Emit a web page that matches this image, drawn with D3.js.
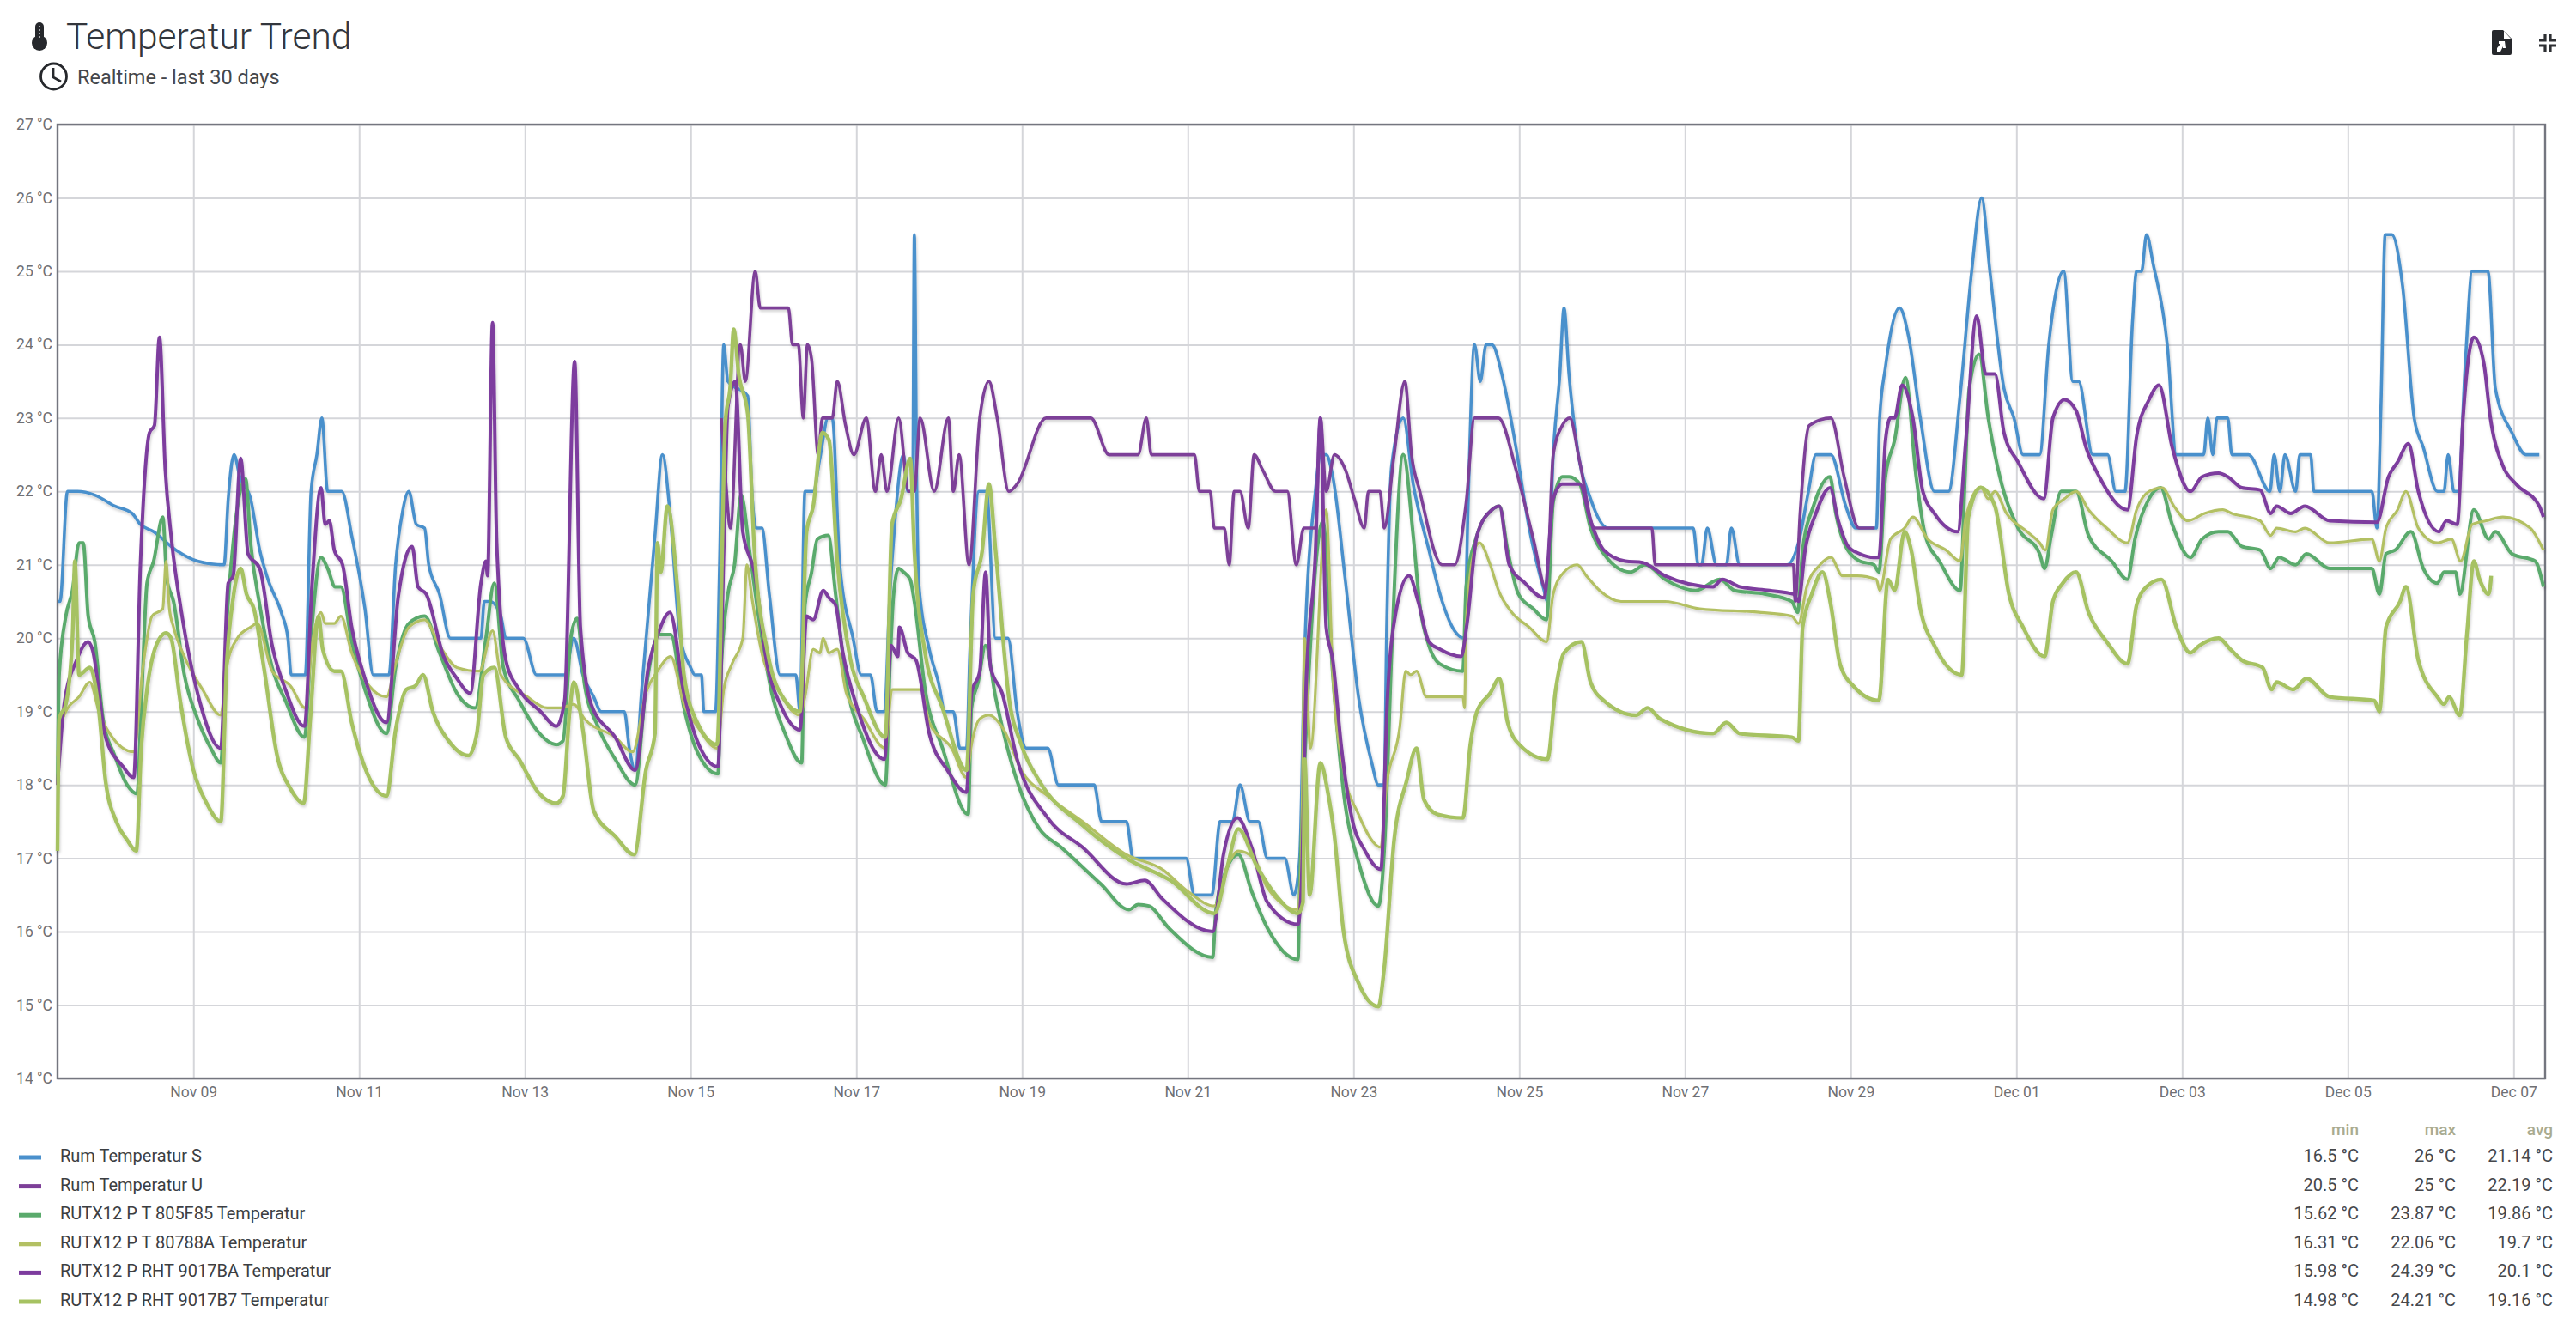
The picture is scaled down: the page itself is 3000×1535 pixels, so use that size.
<!DOCTYPE html>
<html><head><meta charset="utf-8">
<script src="https://cdn.jsdelivr.net/npm/d3@7/dist/d3.min.js"></script>
<style>html,body{margin:0;background:#fff}svg{display:block}text{font-family:Roboto,sans-serif}</style>
</head><body><svg id="c" width="3000" height="1535"></svg>
<script>
// Each point: [day counted from the start of November (Dec 1 = 31), temperature in °C]
const rumS=[[7.36,20.5],[7.39,20.5],[7.48,22],[7.6,22],[7.81,21.95],[8.05,21.8],[8.26,21.7],[8.36,21.55],[8.52,21.45],[8.79,21.2],[9.05,21.05],[9.37,21],[9.42,21.9],[9.49,22.5],[9.56,22.2],[9.69,21.9],[9.8,21.2],[9.9,20.8],[10.06,20.35],[10.14,20],[10.18,19.5],[10.35,19.5],[10.42,22],[10.49,22.5],[10.55,23],[10.62,22],[10.79,22],[10.91,21.4],[11.07,20.4],[11.17,19.5],[11.36,19.5],[11.44,21],[11.52,21.7],[11.6,22],[11.69,21.55],[11.79,21.5],[11.84,21],[11.97,20.6],[12.1,20],[12.47,20],[12.51,20.5],[12.58,20.5],[12.71,20.3],[12.77,20],[12.98,20],[13.14,19.5],[13.48,19.5],[13.59,20],[13.7,19.5],[13.83,19.2],[13.92,19],[14.2,19],[14.26,18.5],[14.33,18.2],[14.41,19.3],[14.57,21.4],[14.66,22.5],[14.76,21.6],[14.87,20.05],[15,19.6],[15.05,19.5],[15.13,19.5],[15.16,19],[15.3,19],[15.35,21],[15.4,24],[15.45,23.5],[15.69,23.3],[15.74,22],[15.79,21.5],[15.86,21.5],[15.95,20.6],[16.08,19.5],[16.27,19.5],[16.32,19],[16.38,22],[16.48,22],[16.56,22.45],[16.66,23],[16.71,23],[16.8,21],[16.96,20],[17.06,19.5],[17.17,19.5],[17.25,19],[17.34,19],[17.4,20.5],[17.46,21.5],[17.57,22.5],[17.62,22],[17.68,22],[17.7,25.5],[17.73,22],[17.75,20.8],[17.88,19.85],[17.99,19.4],[18.07,19],[18.17,19],[18.25,18.5],[18.33,18.5],[18.37,19.8],[18.48,22],[18.57,22],[18.68,20],[18.83,20],[18.94,19],[19.05,18.5],[19.31,18.5],[19.44,18],[19.87,18],[19.96,17.5],[20.26,17.5],[20.34,17],[20.98,17],[21.08,16.5],[21.29,16.5],[21.39,17.5],[21.54,17.5],[21.63,18],[21.75,17.5],[21.85,17.5],[21.96,17],[22.17,17],[22.28,16.5],[22.35,17],[22.41,19.8],[22.54,22],[22.6,22.5],[22.67,22.5],[22.75,22.2],[22.9,20.8],[23.06,19.2],[23.22,18.3],[23.3,18],[23.37,18],[23.4,20.1],[23.46,22.35],[23.6,23],[23.72,22.1],[23.91,21.2],[24.07,20.5],[24.22,20.1],[24.34,20],[24.38,21.7],[24.46,24],[24.53,23.5],[24.6,24],[24.67,24],[24.8,23.55],[24.96,22.6],[25.12,21.5],[25.3,20.65],[25.34,20.5],[25.41,22.5],[25.49,23.6],[25.54,24.5],[25.6,23.6],[25.7,22.6],[25.86,21.9],[26.07,21.5],[27.1,21.5],[27.16,21],[27.2,21],[27.27,21.5],[27.38,21],[27.5,21],[27.56,21.5],[27.66,21],[28.23,21],[28.37,21.3],[28.49,22],[28.58,22.5],[28.76,22.5],[28.94,21.8],[29.06,21.5],[29.31,21.5],[29.35,23],[29.42,23.7],[29.59,24.5],[29.7,24.1],[29.84,23],[30.01,22],[30.18,22],[30.32,23.3],[30.46,25],[30.58,26],[30.68,25],[30.85,23.4],[30.97,23],[31.08,22.5],[31.28,22.5],[31.39,24],[31.57,25],[31.68,23.5],[31.75,23.5],[31.92,22.5],[32.1,22.5],[32.2,22],[32.31,22],[32.4,24.3],[32.45,25],[32.51,25],[32.57,25.5],[32.65,25.1],[32.82,24],[32.93,22.5],[33.26,22.5],[33.31,23],[33.37,22.5],[33.42,23],[33.55,23],[33.6,22.5],[33.8,22.5],[34.06,22],[34.11,22.5],[34.18,22],[34.24,22.5],[34.37,22],[34.42,22.5],[34.55,22.5],[34.59,22],[35.29,22],[35.35,21.5],[35.4,23.2],[35.45,25.5],[35.53,25.5],[35.66,24.8],[35.8,23],[35.91,22.6],[36.08,22],[36.16,22],[36.21,22.5],[36.28,22],[36.33,22],[36.42,23.8],[36.5,25],[36.69,25],[36.78,23.4],[36.98,22.8],[37.15,22.5],[37.31,22.5]];
const rumU=[[15.37,23],[15.42,22.2],[15.48,21.5],[15.6,24],[15.66,23.5],[15.78,25],[15.84,24.5],[16.18,24.5],[16.23,24],[16.3,24],[16.36,23],[16.41,24],[16.46,23.8],[16.54,22.5],[16.59,23],[16.71,23],[16.77,23.5],[16.87,22.9],[16.97,22.5],[17.12,23],[17.23,22],[17.3,22.5],[17.37,22],[17.51,23],[17.63,22],[17.7,22],[17.77,23],[17.94,22],[18.11,23],[18.17,22],[18.24,22.5],[18.36,21],[18.49,23],[18.6,23.5],[18.7,23],[18.84,22],[18.94,22.1],[19.29,23],[19.83,23],[20.05,22.5],[20.4,22.5],[20.5,23],[20.56,22.5],[21.08,22.5],[21.14,22],[21.27,22],[21.32,21.5],[21.44,21.5],[21.5,21],[21.56,22],[21.63,22],[21.73,21.5],[21.8,22.5],[21.9,22.3],[22.06,22],[22.2,22],[22.31,21],[22.4,21.5],[22.54,21.5],[22.6,23],[22.67,22],[22.77,22.5],[22.9,22.3],[23.01,21.9],[23.13,21.5],[23.18,22],[23.32,22],[23.37,21.5],[23.49,22.5],[23.62,23.5],[23.7,22.5],[23.8,22],[24.07,21],[24.22,21],[24.36,21.85],[24.46,23],[24.75,23],[24.96,22.3],[25.17,21.35],[25.33,20.65],[25.41,22.5],[25.52,22.9],[25.61,23],[25.73,22.4],[25.91,21.5],[26.6,21.5],[26.64,21],[28.31,21],[28.33,20.5],[28.39,21.7],[28.5,22.9],[28.76,23],[28.92,22.2],[29.1,21.5],[29.29,21.5]];
const t805F85=[[7.36,18],[7.38,19.5],[7.46,20.3],[7.54,20.65],[7.62,21.3],[7.67,21.3],[7.73,20.3],[7.81,19.95],[7.91,18.9],[8.05,18.4],[8.2,18],[8.32,17.88],[8.37,19.05],[8.44,20.75],[8.52,21.05],[8.63,21.65],[8.68,20.8],[8.76,20.5],[8.89,19.5],[9.05,18.9],[9.21,18.5],[9.33,18.3],[9.4,20.15],[9.48,21.3],[9.63,22.17],[9.69,21.3],[9.8,20.45],[9.95,19.6],[10.11,19.15],[10.34,18.65],[10.43,20.15],[10.54,21.1],[10.62,20.95],[10.71,20.7],[10.78,20.7],[10.91,19.95],[11.07,19.3],[11.33,18.7],[11.44,19.6],[11.6,20.2],[11.79,20.3],[11.97,19.8],[12.18,19.25],[12.4,19.05],[12.53,20],[12.63,20.75],[12.74,19.6],[12.93,19.15],[13.14,18.75],[13.38,18.55],[13.46,18.6],[13.56,20.05],[13.63,20.27],[13.72,19.37],[13.88,18.8],[14.09,18.35],[14.33,18],[14.46,19.3],[14.62,20.05],[14.76,20.05],[14.92,19.05],[15.08,18.45],[15.33,18.15],[15.37,19.6],[15.45,20.6],[15.53,21],[15.61,21.95],[15.71,21.2],[15.82,20.3],[15.98,19.25],[16.14,18.7],[16.34,18.3],[16.38,20.45],[16.46,20.9],[16.53,21.35],[16.66,21.4],[16.75,20.6],[16.88,19.4],[17.09,18.6],[17.35,18],[17.41,19.75],[17.45,20.6],[17.51,20.95],[17.57,20.9],[17.65,20.8],[17.7,20.5],[17.83,19.3],[18.04,18.5],[18.35,17.6],[18.39,19.05],[18.47,19.4],[18.56,19.9],[18.68,19.2],[18.94,18.05],[19.21,17.4],[19.47,17.15],[19.95,16.65],[20.29,16.3],[20.4,16.37],[20.53,16.35],[20.77,16.05],[21.3,15.65],[21.34,16.3],[21.45,16.8],[21.61,17.05],[21.77,16.55],[21.96,16.05],[22.33,15.62],[22.35,16.55],[22.41,18.3],[22.46,19.5],[22.59,21.45],[22.63,21.6],[22.75,19.5],[22.88,17.9],[23.06,16.95],[23.3,16.35],[23.38,17.3],[23.46,19.8],[23.6,22.5],[23.72,21.4],[23.8,20.45],[23.91,19.9],[24.04,19.65],[24.32,19.55],[24.36,20.7],[24.49,21.4],[24.67,21.75],[24.76,21.8],[24.86,21.2],[24.99,20.6],[25.17,20.4],[25.33,20.25],[25.41,21.85],[25.52,22.2],[25.6,22.2],[25.73,22.1],[25.86,21.5],[26.02,21.15],[26.34,20.9],[26.52,21],[26.76,20.8],[27.13,20.65],[27.42,20.8],[27.6,20.65],[27.97,20.6],[28.29,20.5],[28.36,20.35],[28.42,21.2],[28.55,21.8],[28.75,22.2],[28.82,21.7],[28.92,21.3],[29.11,21.05],[29.28,21],[29.34,20.9],[29.42,22.2],[29.53,22.7],[29.66,23.55],[29.79,22.2],[29.9,21.4],[30.07,21.05],[30.32,20.65],[30.38,22.2],[30.43,23.4],[30.55,23.87],[30.66,23],[30.8,22.2],[31.02,21.5],[31.28,21.15],[31.34,20.95],[31.42,21.4],[31.54,22],[31.72,22],[31.87,21.4],[32.15,21.05],[32.34,20.8],[32.43,21.35],[32.6,21.9],[32.74,22.05],[32.88,21.55],[33.1,21.1],[33.24,21.35],[33.44,21.45],[33.55,21.45],[33.72,21.25],[33.94,21.2],[34.07,20.95],[34.17,21.1],[34.37,21],[34.5,21.15],[34.78,20.95],[35.29,20.95],[35.38,20.6],[35.46,21.15],[35.57,21.2],[35.76,21.45],[35.91,20.95],[36.08,20.75],[36.16,20.9],[36.3,20.9],[36.35,20.6],[36.52,21.75],[36.7,21.35],[36.78,21.45],[36.98,21.15],[37.26,21.05],[37.36,20.7]];
const t80788A=[[7.36,18.4],[7.38,18.7],[7.46,19],[7.62,19.2],[7.75,19.4],[7.86,19],[7.99,18.7],[8.28,18.45],[8.39,19.6],[8.5,20.3],[8.63,20.4],[8.67,21.05],[8.71,20.4],[8.76,20.15],[8.89,19.75],[9.11,19.3],[9.33,18.95],[9.4,19.6],[9.53,20],[9.69,20.15],[9.77,20.2],[9.95,19.55],[10.17,19.35],[10.35,19.05],[10.43,19.9],[10.54,20.35],[10.59,20.2],[10.7,20.2],[10.78,20.3],[10.91,19.8],[11.12,19.35],[11.33,19.2],[11.44,19.65],[11.6,20.15],[11.79,20.25],[11.97,19.9],[12.18,19.6],[12.45,19.55],[12.61,20.1],[12.71,19.5],[13.03,19.2],[13.27,19.05],[13.43,19.05],[13.59,19.1],[13.72,18.9],[14.09,18.65],[14.3,18.45],[14.46,19.25],[14.6,19.55],[14.76,19.75],[14.92,19.1],[15.08,18.8],[15.32,18.5],[15.4,19.3],[15.5,19.65],[15.63,20],[15.68,21],[15.74,20.55],[15.87,19.75],[16.03,19.35],[16.32,18.95],[16.38,19.2],[16.48,19.85],[16.56,19.8],[16.6,20],[16.67,19.8],[16.77,19.85],[16.88,19.25],[17.09,18.9],[17.35,18.5],[17.43,19.3],[17.78,19.3],[17.88,18.85],[18.15,18.5],[18.33,18.1],[18.39,18.55],[18.49,18.9],[18.6,18.95],[18.78,18.75],[18.99,18.2],[19.31,17.85],[19.73,17.5],[20.26,17.05],[20.69,16.85],[21,16.55],[21.32,16.35],[21.48,16.9],[21.61,17.1],[21.8,17],[21.96,16.6],[22.33,16.3],[22.37,17],[22.41,20],[22.48,18.5],[22.67,21.75],[22.75,19.5],[22.88,18.2],[23.06,17.6],[23.33,17.15],[23.39,17.9],[23.56,18.8],[23.63,19.55],[23.69,19.5],[23.76,19.55],[23.88,19.2],[24.04,19.2],[24.32,19.2],[24.34,19.05],[24.36,20.2],[24.46,21.2],[24.52,21.3],[24.65,21],[24.75,20.65],[24.91,20.35],[25.12,20.15],[25.33,19.95],[25.41,20.6],[25.54,20.9],[25.7,21],[25.81,20.85],[25.97,20.65],[26.23,20.5],[26.76,20.5],[27.18,20.4],[27.92,20.35],[28.29,20.3],[28.37,20.2],[28.47,20.7],[28.63,21],[28.76,21.1],[28.9,20.85],[29.08,20.85],[29.31,20.8],[29.35,20.65],[29.48,21.35],[29.65,21.5],[29.75,21.65],[29.93,21.35],[30.15,21.2],[30.32,21.05],[30.39,21.65],[30.57,22.06],[30.66,21.9],[30.74,22],[30.88,21.7],[31.13,21.45],[31.28,21.3],[31.35,21.2],[31.44,21.75],[31.58,21.9],[31.72,22],[31.87,21.75],[32.09,21.5],[32.34,21.3],[32.45,21.75],[32.6,22],[32.76,22.05],[32.9,21.8],[33.07,21.6],[33.27,21.7],[33.49,21.75],[33.6,21.7],[33.94,21.6],[34.07,21.4],[34.14,21.5],[34.37,21.45],[34.48,21.5],[34.78,21.3],[35.29,21.35],[35.38,21.05],[35.46,21.5],[35.6,21.75],[35.7,22],[35.85,21.5],[36.08,21.3],[36.25,21.35],[36.36,21.05],[36.5,21.55],[36.67,21.6],[36.87,21.65],[37.2,21.5],[37.36,21.2]];
const rht9017BA=[[7.36,18],[7.44,19.1],[7.59,19.7],[7.73,19.95],[7.78,19.85],[7.94,18.65],[8.15,18.25],[8.28,18.1],[8.36,21],[8.47,22.8],[8.53,22.9],[8.59,24.1],[8.66,22.3],[8.73,21.4],[8.87,20.25],[9.05,19.25],[9.33,18.5],[9.42,20.75],[9.48,20.85],[9.57,22.45],[9.66,21.15],[9.8,20.95],[9.95,19.9],[10.11,19.3],[10.34,18.8],[10.43,20.7],[10.54,22.05],[10.59,21.55],[10.64,21.6],[10.7,21.2],[10.8,21],[10.91,20.15],[11.07,19.45],[11.33,18.85],[11.47,20.55],[11.64,21.25],[11.71,20.7],[11.81,20.6],[12.02,19.75],[12.18,19.45],[12.34,19.25],[12.47,20.75],[12.53,21.05],[12.55,20.85],[12.61,24.3],[12.66,21.3],[12.77,19.7],[12.93,19.3],[13.19,19],[13.38,18.8],[13.48,19.15],[13.6,23.77],[13.67,20.15],[13.8,19.1],[14.09,18.65],[14.33,18.2],[14.49,19.6],[14.62,20.1],[14.75,20.35],[14.92,19.25],[15.08,18.6],[15.33,18.25],[15.4,21.2],[15.45,23.15],[15.54,23.5],[15.63,21.45],[15.77,20.9],[15.93,19.6],[16.08,19.1],[16.32,18.75],[16.4,20.3],[16.48,20.25],[16.6,20.65],[16.67,20.55],[16.75,20.45],[16.83,19.85],[17.01,19.05],[17.34,18.35],[17.42,19.9],[17.5,19.75],[17.52,20.15],[17.62,19.8],[17.72,19.7],[17.88,18.7],[18.1,18.2],[18.33,17.9],[18.39,19.25],[18.49,19.55],[18.56,20.9],[18.62,19.6],[18.76,19.25],[18.94,18.35],[19.31,17.55],[19.73,17.15],[20.26,16.65],[20.48,16.7],[20.69,16.45],[21.3,16],[21.43,17.05],[21.6,17.55],[21.77,17.15],[21.96,16.4],[22.33,16.1],[22.37,16.6],[22.43,19.4],[22.54,21.15],[22.6,23],[22.67,20.15],[22.75,19.7],[22.85,18.55],[22.98,17.55],[23.14,17.1],[23.33,16.85],[23.41,19.2],[23.51,20.35],[23.67,20.85],[23.78,20.5],[23.91,19.95],[24.04,19.85],[24.3,19.75],[24.37,20.2],[24.49,21.4],[24.67,21.75],[24.76,21.8],[24.88,21],[25.07,20.75],[25.3,20.55],[25.41,21.9],[25.52,22.1],[25.73,22.1],[25.86,21.6],[26.02,21.2],[26.28,21.05],[26.49,21.03],[26.76,20.85],[27.34,20.7],[27.45,20.8],[27.66,20.7],[28.02,20.65],[28.31,20.6],[28.37,20.5],[28.45,21.2],[28.58,21.7],[28.75,22.05],[28.85,21.6],[28.97,21.25],[29.11,21.15],[29.28,21.1],[29.34,21.1],[29.42,22.7],[29.48,23],[29.53,23],[29.62,23.45],[29.75,23],[29.87,22],[30.01,21.7],[30.29,21.45],[30.39,22.7],[30.52,24.39],[30.63,23.6],[30.74,23.6],[30.85,22.8],[31.02,22.4],[31.33,21.9],[31.44,23],[31.58,23.25],[31.72,23.1],[31.84,22.6],[32,22.2],[32.34,21.75],[32.45,22.75],[32.6,23.25],[32.72,23.45],[32.88,22.6],[33.1,22],[33.24,22.2],[33.44,22.25],[33.55,22.2],[33.72,22.05],[33.94,22.02],[34.07,21.7],[34.14,21.8],[34.31,21.7],[34.48,21.8],[34.78,21.6],[35.35,21.58],[35.49,22.2],[35.6,22.4],[35.73,22.65],[35.85,22],[36.1,21.45],[36.19,21.6],[36.32,21.55],[36.39,23],[36.52,24.1],[36.64,23.75],[36.72,23],[36.87,22.35],[37.03,22.1],[37.31,21.8],[37.36,21.65]];
const rht9017B7=[[7.36,17.1],[7.38,18.9],[7.46,19.1],[7.54,20],[7.57,21.05],[7.62,19.5],[7.75,19.6],[7.86,19],[7.94,18.05],[8.07,17.5],[8.2,17.25],[8.31,17.1],[8.37,18.5],[8.44,19.3],[8.55,19.9],[8.67,20.07],[8.73,20],[8.84,19.15],[9,18.2],[9.16,17.75],[9.33,17.5],[9.4,19.6],[9.48,20.55],[9.57,20.95],[9.64,20.6],[9.73,20.4],[9.85,19.6],[10.01,18.4],[10.17,17.95],[10.33,17.75],[10.41,18.9],[10.51,20.3],[10.56,19.85],[10.7,19.55],[10.78,19.55],[10.91,18.85],[11.12,18.1],[11.33,17.85],[11.44,18.75],[11.57,19.3],[11.68,19.35],[11.77,19.5],[11.89,19],[12.08,18.6],[12.32,18.4],[12.42,18.7],[12.5,19.5],[12.63,19.6],[12.77,18.65],[12.93,18.35],[13.16,17.9],[13.38,17.75],[13.46,17.85],[13.54,19],[13.59,19.4],[13.7,18.75],[13.83,17.65],[14.09,17.3],[14.32,17.05],[14.46,18.2],[14.57,18.7],[14.6,21.3],[14.64,20.9],[14.72,21.8],[14.84,20.7],[14.92,19.5],[15.08,18.85],[15.32,18.55],[15.42,22.95],[15.48,23.45],[15.52,24.21],[15.58,23.6],[15.69,23.05],[15.77,21.2],[15.93,19.8],[16.14,19.15],[16.32,19],[16.4,21.45],[16.48,21.8],[16.59,22.8],[16.67,22.7],[16.77,21.05],[16.93,19.7],[17.09,19.2],[17.35,18.65],[17.43,21.55],[17.54,21.9],[17.65,22.45],[17.7,21.2],[17.83,19.8],[18.04,19.05],[18.33,18.2],[18.41,20.6],[18.52,21.2],[18.6,22.1],[18.68,21.2],[18.84,19.2],[18.99,18.55],[19.21,18.05],[19.73,17.45],[20.26,17],[20.79,16.7],[21.32,16.25],[21.48,16.9],[21.61,17.4],[21.83,16.9],[22.06,16.5],[22.33,16.25],[22.39,16.4],[22.41,18.35],[22.47,16.5],[22.6,18.3],[22.69,17.9],[22.77,17.3],[22.88,16],[23.06,15.3],[23.3,14.98],[23.37,15.5],[23.49,17.25],[23.64,18.05],[23.76,18.5],[23.85,17.8],[24.01,17.6],[24.32,17.55],[24.41,18.55],[24.49,19],[24.65,19.25],[24.76,19.45],[24.86,18.85],[24.96,18.6],[25.34,18.35],[25.44,19.3],[25.54,19.8],[25.75,19.95],[25.86,19.4],[26.02,19.15],[26.41,18.95],[26.55,19.05],[26.7,18.9],[27.34,18.7],[27.5,18.85],[27.66,18.7],[28.29,18.65],[28.37,18.6],[28.42,20.15],[28.53,20.6],[28.66,20.9],[28.76,20.45],[28.87,19.65],[29.03,19.35],[29.34,19.15],[29.45,20.8],[29.53,20.65],[29.65,21.45],[29.73,21.2],[29.84,20.4],[30.01,19.9],[30.34,19.5],[30.42,21.65],[30.57,22.05],[30.74,21.8],[30.91,20.6],[31.08,20.15],[31.34,19.75],[31.44,20.5],[31.56,20.75],[31.72,20.9],[31.87,20.35],[32.09,19.95],[32.34,19.65],[32.45,20.45],[32.57,20.7],[32.75,20.8],[32.93,20.15],[33.1,19.8],[33.21,19.9],[33.44,20],[33.58,19.85],[33.72,19.7],[33.97,19.6],[34.08,19.3],[34.14,19.4],[34.34,19.3],[34.5,19.45],[34.78,19.2],[35.32,19.15],[35.38,19],[35.46,20.15],[35.63,20.5],[35.7,20.7],[35.85,19.7],[36.08,19.2],[36.16,19.1],[36.22,19.2],[36.35,18.95],[36.44,20.1],[36.52,21.05],[36.59,20.8],[36.7,20.6],[36.73,20.85]];

const seriesNames=["Rum Temperatur S","Rum Temperatur U","RUTX12 P T 805F85 Temperatur","RUTX12 P T 80788A Temperatur","RUTX12 P RHT 9017BA Temperatur","RUTX12 P RHT 9017B7 Temperatur"];
const seriesData=[rumS,rumU,t805F85,t80788A,rht9017BA,rht9017B7];
const seriesColors=["#4a90cc","#7d3f98","#5aaa6c","#b3c063","#7d3c9e","#a6c262"];
const seriesWidths=[3.6,3.6,4,3.2,4,4.4];
const minValues=["16.5 °C","20.5 °C","15.62 °C","16.31 °C","15.98 °C","14.98 °C"];
const maxValues=["26 °C","25 °C","23.87 °C","22.06 °C","24.39 °C","24.21 °C"];
const avgValues=["21.14 °C","22.19 °C","19.86 °C","19.7 °C","20.1 °C","19.16 °C"];
const tickDays=[9,11,13,15,17,19,21,23,25,27,29,31,33,35,37];
const yTicks=[14,15,16,17,18,19,20,21,22,23,24,25,26,27];
const domainDays=[7.36,37.38];

const toDate=d=>new Date(Date.UTC(2022,9,31)+d*864e5);
const M={l:67,r:2964,t:145,b:1256};
const svg=d3.select("#c");
const x=d3.scaleUtc().domain(domainDays.map(toDate)).range([M.l,M.r]);
const y=d3.scaleLinear().domain([14,27]).range([M.b,M.t]);

const defs=svg.append("defs");
const f=defs.append("filter").attr("id","sh").attr("x","-2%").attr("y","-2%").attr("width","104%").attr("height","106%");
f.append("feDropShadow").attr("dx",1).attr("dy",2.5).attr("stdDeviation",1.6).attr("flood-color","#000").attr("flood-opacity",.18);

const gx=svg.append("g").attr("transform",`translate(0,${M.b})`)
  .call(d3.axisBottom(x).tickValues(tickDays.map(toDate)).tickFormat(d3.utcFormat("%b %d")).tickSize(-(M.b-M.t)).tickPadding(10));
const gy=svg.append("g").attr("transform",`translate(${M.l},0)`)
  .call(d3.axisLeft(y).tickValues(yTicks).tickFormat(d=>d+" °C").tickSize(-(M.r-M.l)).tickPadding(6));
[gx,gy].forEach(g=>{g.select(".domain").remove();
  g.selectAll("line").attr("stroke","#d5d6da").attr("stroke-width",2);
  g.selectAll("text").attr("fill","#6f7074").attr("font-size",17.5).attr("font-family","Roboto,sans-serif");});

svg.append("rect").attr("x",M.l).attr("y",M.t).attr("width",M.r-M.l).attr("height",M.b-M.t)
  .attr("fill","none").attr("stroke","#74767f").attr("stroke-width",2.4);

const line=d3.line().x(d=>x(toDate(d[0]))).y(d=>y(d[1])).curve(d3.curveMonotoneX);
svg.append("g").attr("filter","url(#sh)").selectAll("path").data(seriesData).join("path")
  .attr("d",line).attr("fill","none").attr("stroke-linejoin","round")
  .attr("stroke",(d,i)=>seriesColors[i]).attr("stroke-width",(d,i)=>seriesWidths[i]);

// Title block
svg.append("text").attr("x",77).attr("y",57).attr("font-size",42.5).attr("font-weight",300).attr("fill","#33363c").text("Temperatur Trend");
svg.append("text").attr("x",90).attr("y",98).attr("font-size",23.5).attr("fill","#44474c").text("Realtime - last 30 days");
// thermometer icon
const ic=svg.append("g");
ic.append("rect").attr("x",41).attr("y",26).attr("width",10).attr("height",26).attr("rx",5).attr("fill","#26282c");
ic.append("circle").attr("cx",46).attr("cy",50).attr("r",9).attr("fill","#26282c");
ic.append("line").attr("x1",46).attr("x2",46).attr("y1",30).attr("y2",44).attr("stroke","#cfd0d2").attr("stroke-width",1.5).attr("stroke-dasharray","2 2");
// clock icon
ic.append("circle").attr("cx",62.5).attr("cy",89).attr("r",15).attr("fill","none").attr("stroke","#26282c").attr("stroke-width",2.8);
ic.append("path").attr("d","M62 79V90L71 95").attr("fill","none").attr("stroke","#26282c").attr("stroke-width",2.8);
// export icon
ic.append("path").attr("d","M2904 35H2915L2925 45V62Q2925 64 2923 64H2904Q2902 64 2902 62V37Q2902 35 2904 35Z").attr("fill","#26282c");
ic.append("path").attr("d","M2916 36L2924 45H2916Z").attr("fill","#fff");
ic.append("path").attr("d","M2917 48H2910V51H2912L2908 56V60H2912L2915 54V56H2918Z").attr("fill","#fff");
// compress icon
ic.append("path").attr("d","M2964 40V47H2957M2970 40V47H2977M2964 60V53H2957M2970 60V53H2977").attr("fill","none").attr("stroke","#2d2f33").attr("stroke-width",3.2);

// Legend
const rowY=i=>1347+i*33.6;
const lg=svg.append("g");
seriesNames.forEach((n,i)=>{
  lg.append("line").attr("x1",22).attr("x2",48).attr("y1",rowY(i)+1).attr("y2",rowY(i)+1).attr("stroke",seriesColors[i]).attr("stroke-width",5);
  lg.append("text").attr("x",70).attr("y",rowY(i)+6).attr("font-size",20).attr("fill","#3c3e42").text(n);
  [[2747,minValues],[2860,maxValues],[2973,avgValues]].forEach(([cx,a])=>{
    lg.append("text").attr("x",cx).attr("y",rowY(i)+6).attr("text-anchor","end").attr("font-size",20).attr("fill","#46484c").text(a[i]);
  });
});
[[2747,"min"],[2860,"max"],[2973,"avg"]].forEach(([cx,t])=>{
  lg.append("text").attr("x",cx).attr("y",1322).attr("text-anchor","end").attr("font-size",19).attr("font-weight",500).attr("fill","#a9ab90").text(t);
});
</script></body></html>
